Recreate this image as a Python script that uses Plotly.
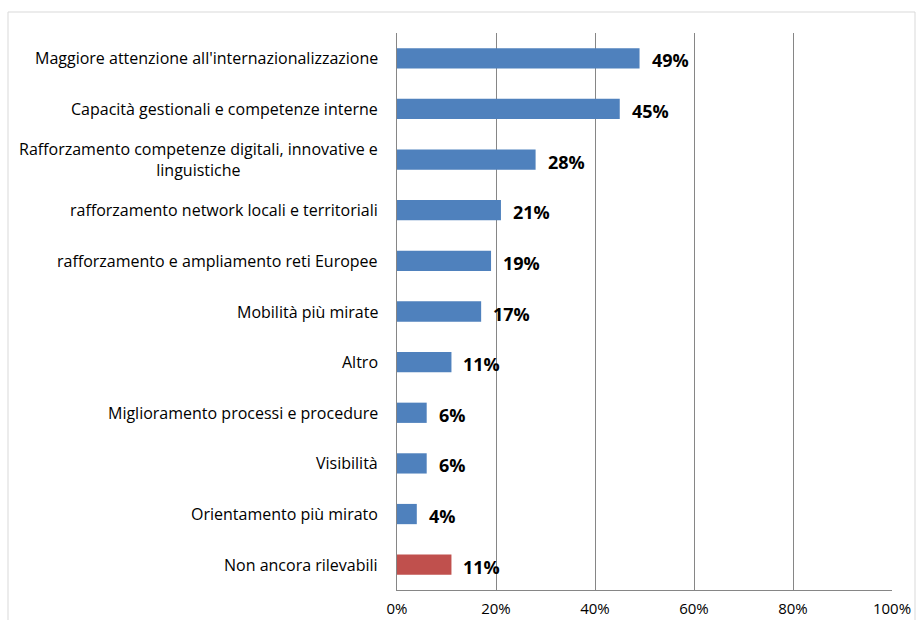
import plotly.graph_objects as go

categories = [
    "Maggiore attenzione all'internazionalizzazione",
    "Capacità gestionali e competenze interne",
    "Rafforzamento competenze digitali, innovative e<br>linguistiche",
    "rafforzamento network locali e territoriali",
    "rafforzamento e ampliamento reti Europee",
    "Mobilità più mirate",
    "Altro",
    "Miglioramento processi e procedure",
    "Visibilità",
    "Orientamento più mirato",
    "Non ancora rilevabili",
]
values = [0.49, 0.45, 0.28, 0.21, 0.19, 0.17, 0.11, 0.06, 0.06, 0.04, 0.11]
bar_colors = ["#4F81BD"] * 10 + ["#C0504D"]
x_ticks = [0, 0.2, 0.4, 0.6, 0.8, 1.0]
x_tick_labels = ["0%", "20%", "40%", "60%", "80%", "100%"]

FONT = "'Open Sans', sans-serif"
W, H = 916, 620
L, R, T, B = 397, 24, 33, 30

ypos = list(range(len(categories)))

fig = go.Figure(
    go.Bar(
        x=values,
        y=ypos,
        orientation="h",
        width=0.4,
        marker=dict(color=bar_colors, line=dict(width=0)),
        hoverinfo="skip",
    )
)

# value labels beside each bar
for yi, v in zip(ypos, values):
    fig.add_annotation(
        x=v, y=yi, xref="x", yref="y",
        text=f"<b>{round(v * 100)}%</b>",
        showarrow=False, xanchor="left", yanchor="middle",
        xshift=10, yshift=-2,
        font=dict(family=FONT, size=18, color="#000000"),
    )

# category labels, right-aligned against the axis
for yi, c in zip(ypos, categories):
    fig.add_annotation(
        x=0, y=yi, xref="paper", yref="y",
        text=c, showarrow=False, xanchor="right", yanchor="middle",
        align="center", xshift=-17,
        font=dict(family=FONT, size=16, color="#000000"),
    )

# outer chart frame
fig.add_shape(
    type="rect", xref="paper", yref="paper",
    xsizemode="pixel", ysizemode="pixel", xanchor=0, yanchor=1,
    x0=8 - L, x1=915 - L, y0=T - 12, y1=T - 12 - 640,
    line=dict(color="#D9D9D9", width=1), fillcolor="rgba(0,0,0,0)",
    layer="below",
)

fig.update_layout(
    width=W, height=H,
    margin=dict(l=L, r=R, t=T, b=B, autoexpand=False),
    paper_bgcolor="white", plot_bgcolor="white",
    showlegend=False,
    bargap=0.6,
    xaxis=dict(
        range=[0, 1], tickvals=x_ticks, ticktext=x_tick_labels,
        showgrid=True, gridcolor="#868686", gridwidth=1,
        zeroline=False, showline=True, linecolor="#868686", linewidth=1,
        ticks="", ticklabelstandoff=5, automargin=False,
        tickfont=dict(family=FONT, size=15, color="#000000"),
        fixedrange=True,
    ),
    yaxis=dict(
        range=[len(categories) - 0.5, -0.5],
        showticklabels=False, showgrid=False, zeroline=False,
        showline=True, linecolor="#868686", linewidth=1, ticks="",
        automargin=False, fixedrange=True,
    ),
)

fig.write_html("out.html")
